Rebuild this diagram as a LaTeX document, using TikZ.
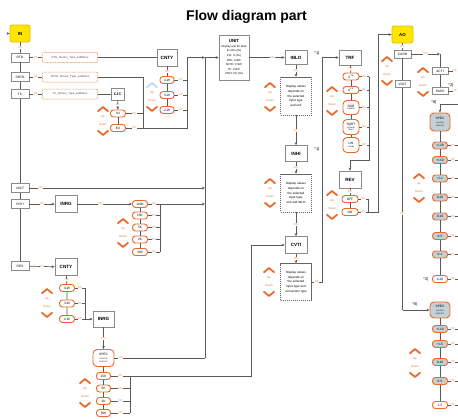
\documentclass[tikz,border=0pt]{standalone}
\usepackage{fontspec}
\setmainfont{Liberation Sans}
\usetikzlibrary{arrows.meta,shadows}
\definecolor{org}{HTML}{E8692A}
\definecolor{okc}{HTML}{F28C50}
\definecolor{lnc}{HTML}{5A5A5A}
\definecolor{bxc}{HTML}{8A8A8A}
\definecolor{yel}{HTML}{FFE500}
\definecolor{yelb}{HTML}{E8B800}
\definecolor{spc}{HTML}{C3D1D6}
\definecolor{pbl}{HTML}{BCD8EE}
\newcommand{\fs}[1]{\fontsize{#1}{#1}\selectfont}
\tikzset{
 box/.style={draw=bxc, line width=0.8pt, fill=white, font=\bfseries\fs{4.6}, inner sep=0pt, minimum width=22pt, minimum height=17pt, drop shadow={shadow xshift=0.7pt, shadow yshift=-0.7pt, fill=black!22}},
 sbox/.style={draw=bxc, line width=0.6pt, fill=white, font=\fs{3.2}, minimum width=18pt, minimum height=9pt, inner sep=0pt, drop shadow={shadow xshift=0.5pt, shadow yshift=-0.5pt, fill=black!20}},
 inbox/.style={draw=yelb, line width=0.8pt, fill=yel, rounded corners=2pt, font=\bfseries\fs{4.4}, minimum width=20pt, minimum height=17pt, inner sep=0pt},
 pill/.style={draw=org, line width=0.9pt, fill=white, rounded corners=3pt, font=\fs{3.2}, minimum width=15pt, minimum height=7pt, inner sep=0pt, align=center},
 gpill/.style={pill, fill=spc},
 spec/.style={pill, rounded corners=4pt, minimum width=21pt, minimum height=17pt},
 ok/.style={text=okc, font=\fs{2.8}, fill=white, inner sep=0.4pt},
 ud/.style={text=org, font=\fs{2.8}, inner sep=0pt},
 ln/.style={draw=lnc, line width=0.7pt},
 arr/.style={ln, -{Stealth[length=3pt,width=2.8pt]}},
 sub/.style={draw=org!80, line width=0.5pt, dash pattern=on 1pt off 0.6pt, rounded corners=1pt, font=\fs{2.8}, text=black!70, minimum width=55pt, minimum height=10pt, inner sep=0pt, fill=white},
 dbox/.style={draw=black!60, line width=0.5pt, dash pattern=on 1.2pt off 0.8pt, fill=white, font=\fontsize{3.1}{4.6}\selectfont, align=center, minimum width=31pt, minimum height=38pt, inner sep=0pt},
 note/.style={font=\fs{4}, inner sep=0pt},
 chev/.style={draw=org, line width=1.8pt, line cap=round, line join=round},
 updown/.pic={
   \draw[chev] (-5,-9.8) -- (0,-14) -- (5,-9.8);
   \node[ud] (-up) at (0,-4) {Up};
   \node[ud] (-dn) at (0,4) {Down};
   \draw[chev] (-5,9.8) -- (0,14) -- (5,9.8);
 },
 updownb/.pic={
   \draw[chev, draw=pbl] (-5,-9.8) -- (0,-14) -- (5,-9.8);
   \node[ud] (-up) at (0,-4) {Up};
   \node[ud] (-dn) at (0,4) {Down};
   \draw[chev] (-5,9.8) -- (0,14) -- (5,9.8);
 },
}
\begin{document}
\begin{tikzpicture}[x=1pt,y=-1pt]
\useasboundingbox (0,0) rectangle (458,418);
\node[font=\bfseries\fs{14}, anchor=base, inner sep=0pt] (title) at (246.5,20) {Flow diagram part};

% ---------- left column ----------
\node[inbox] (IN) at (20,33.5) {IN};
\coordinate (INs) at (6.5,33.5);
\draw[arr] (INs) -- (IN);
\node[sbox] (RTO) at (20,57.5) {RTO};
\node[sbox] (SRTD) at (20,77) {SRTD};
\node[sbox] (TC) at (20,94) {TC};
\node[sbox] (VOLT) at (20,188) {VOLT};
\node[sbox] (POTI) at (20,204) {POTI};
\node[sbox] (RES) at (20,266) {RES};
\draw[ln] (IN) -- node[ok]{OK} (RTO);
\draw[ln] (RTO) -- (SRTD) -- (TC) -- (VOLT) -- (POTI) -- (RES);

\node[sub] (RTOm) at (70,57.5) {RTD\_Sensor\_Type\_subMenu};
\node[sub] (SRTDm) at (70,77) {SRTD\_Sensor\_Type\_subMenu};
\node[sub] (TCm) at (70,94) {TC\_Sensor\_Type\_subMenu};
\draw[ln] (RTO) -- node[ok]{OK} (RTOm);
\draw[ln] (SRTD) -- node[ok]{OK} (SRTDm);
\draw[ln] (TC) -- node[ok]{OK} (TCm);

% CNTY (RTD)
\node[box, minimum width=20pt] (CNTYa) at (167,57.5) {CNTY};
\draw[ln] (RTOm) -- (CNTYa);
\node[pill, minimum width=14pt] (a4w) at (167,80) {4-W};
\node[pill, minimum width=14pt] (a3w) at (167,95) {3-W};
\node[pill, minimum width=14pt] (a2w) at (167,110) {2-W};
\draw[ln] (CNTYa) -- node[ok]{OK} (a4w) -- (a3w) -- (a2w);
\coordinate (b1t) at (187,57.5);
\coordinate (b1b) at (187,128);
\draw[ln] (a4w) -- node[ok]{OK} (a4w -| b1t);
\draw[ln] (a3w) -- node[ok]{OK} (a3w -| b1t);
\draw[ln] (a2w) -- node[ok]{OK} (a2w -| b1t);
\pic (u1) at (152,97) {updownb};

% CJC
\node[box, minimum width=13pt, minimum height=12pt, font=\bfseries\fs{3.6}] (CJC) at (117.5,94) {CJC};
\draw[ln] (TCm) -- (CJC);
\node[pill] (cin) at (118,113.5) {IN};
\node[pill] (cex) at (118,128) {EX};
\draw[arr] (CJC) -- node[ok]{OK} (cin);
\draw[ln] (cin) -- (cex);
\coordinate (j1t) at (143,77);
\coordinate (j1) at (143,128);
\draw[ln] (SRTDm) -- (j1t) -- (j1) -- (b1b) -- (b1t);
\draw[ln] (cin) -- node[ok]{OK} (cin -| j1);
\draw[ln] (cex) -- node[ok]{OK} (j1);
\pic (u2) at (103,121) {updown};

% bus to UNIT
\coordinate (b2t) at (205,57.5);
\coordinate (b2v) at (205,188);
\coordinate (b2p) at (205,204);
\coordinate (b2b) at (205,358);
\draw[ln] (b2t) -- (b2b);
\draw[arr] (b1t) -- (b2t);
\node[box, minimum width=30pt, minimum height=45pt, align=center, font=\fontsize{2.8}{4.6}\selectfont] (UNIT) at (234,57.5) {{\bfseries\fs{4.4}UNIT}\\Display unit for data\\R: ohm (fix)\\Pot: \% (fix)\\RTD: C/K/F\\SRTD: C/K/F\\TC: C/K/F\\VOLT: mV (fix)};
\draw[arr] (b2t) -- (UNIT);

% VOLT / POTI
\draw[arr] (VOLT) -- node[ok, pos=0.065]{OK} (b2v);
\node[box] (INRGa) at (66,204) {INRG};
\draw[arr] (POTI) -- node[ok]{OK} (INRGa);
\node[pill] (r120) at (140,204) {120K};
\node[pill] (r15) at (140,215.5) {15K};
\node[pill] (r5) at (140,227.5) {5K};
\node[pill] (r2) at (140,239.5) {2K};
\node[pill] (r500) at (140,252) {500};
\draw[arr] (INRGa) -- node[ok, pos=0.42]{OK} (r120);
\draw[ln] (r120) -- (r15) -- (r5) -- (r2) -- (r500);
\coordinate (b3t) at (160,204);
\coordinate (b3b) at (160,252);
\draw[ln] (r120) -- node[ok]{OK} (b3t);
\draw[ln] (r15) -- node[ok]{OK} (r15 -| b3t);
\draw[ln] (r5) -- node[ok]{OK} (r5 -| b3t);
\draw[ln] (r2) -- node[ok]{OK} (r2 -| b3t);
\draw[ln] (r500) -- node[ok]{OK} (b3b);
\draw[ln] (b3b) -- (b3t);
\draw[arr] (b3t) -- (b2p);
\pic (u3) at (123,233) {updown};

% RES
\node[box] (CNTYb) at (66,267) {CNTY};
\draw[arr] (RES) -- node[ok]{OK} (CNTYb);
\node[pill] (b4w) at (67,288) {4-W};
\node[pill] (b3w) at (67,303.5) {3-W};
\node[pill] (b2w) at (67,319) {2-W};
\draw[ln] (CNTYb) -- node[ok]{OK} (b4w) -- (b3w) -- (b2w);
\coordinate (b4t) at (85,288);
\coordinate (b4b) at (85,319);
\draw[ln] (b4w) -- node[ok]{OK} (b4t);
\draw[ln] (b3w) -- node[ok]{OK} (b3w -| b4t);
\draw[ln] (b2w) -- node[ok]{OK} (b4b);
\draw[ln] (b4t) -- (b4b);
\node[box, minimum width=21pt, minimum height=16pt] (INRGb) at (103.5,319) {INRG};
\draw[arr] (b4b) -- (INRGb);
\pic (u4) at (47,303) {updown};

\node[spec] (SPa) at (103.5,358) {SPEC\\{\fs{1.8}CUSTOM}\\{\fs{1.8}SPECIFIC}};
\draw[arr] (INRGb) -- node[ok]{OK} (SPa);
\draw[ln] (SPa) -- node[ok, pos=0.07]{OK} (b2b);
\node[pill, minimum width=14pt] (s15) at (103.5,376) {15K};
\node[pill, minimum width=14pt] (s5) at (103.5,388.5) {5K};
\node[pill, minimum width=14pt] (s2) at (103.5,401) {2K};
\node[pill, minimum width=14pt] (s500) at (103.5,413) {500};
\draw[ln] (SPa) -- (s15) -- (s5) -- (s2) -- (s500);
\coordinate (b5t) at (130,376);
\coordinate (b5b) at (130,413);
\draw[ln] (s15) -- node[ok]{OK} (b5t);
\draw[ln] (s5) -- node[ok]{OK} (s5 -| b5t);
\draw[ln] (s2) -- node[ok]{OK} (s2 -| b5t);
\draw[ln] (s500) -- node[ok]{OK} (b5b);
\coordinate (cvb) at (251,376);
\coordinate (cvt) at (251,245);
\draw[ln] (b5b) -- (b5t) -- (cvb) -- (cvt);
\pic (u5) at (85,393) {updown};

% ---------- middle column ----------
\node[box, minimum height=14pt] (INLO) at (296,57.5) {INLO};
\draw[arr] (UNIT) -- node[ok, pos=0.65]{OK} (INLO);
\node[note] (n1) at (317,53) {*1)};
\node[dbox] (D1) at (296,96) {Display values\\depends on\\the selected\\input type\\and unit};
\draw[arr] (INLO) -- node[ok]{OK} (D1);
\node[box, minimum height=16pt] (INHI) at (296,153.5) {INHI};
\node[note] (n2) at (317,149) {*1)};
\draw[arr] (D1) -- node[ok]{OK} (INHI);
\node[dbox] (D2) at (296,193) {Display values\\depends on\\the selected\\input type,\\unit and INLO};
\draw[arr] (INHI) -- node[ok]{OK} (D2);
\node[box] (CVTI) at (296,245) {CVTI};
\draw[arr] (D2) -- node[ok]{OK} (CVTI);
\draw[arr] (cvt) -- (CVTI);
\node[dbox, minimum height=37pt] (D3) at (296,282) {Display values\\depends on\\the selected\\input type and\\connection type};
\draw[arr] (CVTI) -- node[ok]{OK} (D3);
\pic (u6) at (270,97) {updown};
\pic (u7) at (270,193) {updown};
\pic (u8) at (269,282) {updown};

% TRF
\coordinate (t1) at (322,282);
\coordinate (t2) at (322,57.5);
\node[box, minimum height=15pt] (TRF) at (350,57.5) {TRF};
\draw[ln] (D3) -- node[ok]{OK} (t1) -- (t2);
\draw[arr] (t2) -- (TRF);
\node[pill, minimum width=16pt] (p05) at (351,76.5) {X\textsuperscript{0.5}};
\node[pill, minimum width=16pt] (p15) at (351,90) {X\textsuperscript{1.5}};
\node[pill, minimum width=16pt, minimum height=14pt, rounded corners=4pt] (psqr) at (351,107.5) {SQR\\[-0.5pt]{\fs{1.8}SQUARE}};
\node[pill, minimum width=16pt, minimum height=15pt, rounded corners=4pt] (psqrt) at (351,127) {SQRT\\[-0.5pt]{\fs{1.8}SQUARE}\\[-1pt]{\fs{1.8}ROOT}};
\node[pill, minimum width=16pt, minimum height=15pt, rounded corners=4pt] (plin) at (351,145) {LIN\\[-0.5pt]{\fs{1.8}LINEAR}};
\draw[ln] (TRF) -- node[ok]{OK} (p05);
\draw[ln] (p05) -- (p15) -- (psqr) -- (psqrt) -- (plin);
\coordinate (b6t) at (369,76.5);
\coordinate (b6b) at (369,160);
\coordinate (b6c) at (350,160);
\draw[ln] (p05) -- node[ok]{OK} (b6t);
\draw[ln] (p15) -- node[ok]{OK} (p15 -| b6t);
\draw[ln] (psqr) -- node[ok]{OK} (psqr -| b6t);
\draw[ln] (psqrt) -- node[ok]{OK} (psqrt -| b6t);
\draw[ln] (plin) -- node[ok]{OK} (plin -| b6t);
\draw[ln] (b6t) -- (b6b) -- (b6c);
\node[box] (REV) at (350,179.5) {REV};
\draw[arr] (b6c) -- (REV);
\node[pill, minimum width=16pt] (OFF) at (350,199) {OFF};
\node[pill, minimum width=16pt] (ON) at (350,212) {ON};
\draw[ln] (REV) -- node[ok]{OK} (OFF) -- (ON);
\coordinate (b7t) at (368,199);
\coordinate (b7b) at (368,212);
\coordinate (b8b) at (378,212);
\coordinate (b8t) at (378,34.5);
\draw[ln] (OFF) -- node[ok]{OK} (b7t);
\draw[ln] (ON) -- node[ok]{OK} (b7b);
\draw[ln] (b7t) -- (b7b) -- (b8b) -- (b8t);
\pic (u9) at (332,101) {updown};
\pic (u10) at (332,205) {updown};

% ---------- AO ----------
\node[inbox, minimum width=21pt] (AO) at (402.5,34.5) {AO};
\draw[arr] (b8t) -- (AO);
\node[sbox, minimum width=17pt, minimum height=8pt] (CURR) at (402.5,54) {CURR};
\draw[ln] (AO) -- node[ok]{OK} (CURR);
\node[sbox, minimum width=15pt, minimum height=7pt] (VOLTo) at (402.5,84) {VOLT};
\draw[ln] (CURR) -- (VOLTo);
\coordinate (v1) at (402.5,310);
\draw[ln] (VOLTo) -- node[ok, pos=0.564]{OK} (v1);
\pic (u11) at (387,71) {updown};
\coordinate (cc) at (440,54);
\draw[arr] (CURR) -- node[ok]{OK} (cc);
\node[sbox, minimum width=16pt, minimum height=7pt] (ACTI) at (440,71) {ACTI};
\node[sbox, minimum width=16pt, minimum height=7pt] (PASS) at (440,91) {PASS};
\draw[ln] (cc) -- (ACTI) -- (PASS);
\coordinate (e1) at (458,71);
\coordinate (e2) at (458,91);
\draw[ln] (ACTI) -- node[ok, pos=0.7]{OK} (e1);
\draw[ln] (PASS) -- node[ok, pos=0.7]{OK} (e2);
\node[note] (n3) at (451,85.5) {*2)};
\pic (u12) at (423,82) {updown};

\node[note] (n4) at (434,102) {*8)};
\coordinate (sr) at (458,104.5);
\coordinate (sc) at (440,104.5);
\node[spec, fill=spc, minimum width=20pt, minimum height=18pt] (SPr1) at (440,122) {SPEC\\{\fs{1.8}CUSTOM}\\{\fs{1.8}SPECIFIC}};
\draw[ln] (sr) -- (sc);
\draw[arr] (sc) -- (SPr1);
\node[gpill] (g20) at (440,145.5) {+/-20};
\node[gpill] (g10) at (440,160) {+/-10};
\node[gpill] (g1) at (440,178.5) {+/-1};
\node[gpill] (g020) at (440,197.5) {0-20};
\node[gpill] (g010) at (440,216.5) {0-10};
\node[gpill] (g05) at (440,236) {0-5};
\node[gpill] (g01) at (440,254.5) {0-1};
\node[pill] (w420) at (440,279) {4-20};
\draw[ln] (SPr1) -- (g20) -- (g10) -- (g1) -- (g020) -- (g010) -- (g05) -- (g01) -- (w420);
\coordinate (ex) at (458,0);
\draw[ln] (g20) -- node[ok]{OK} (g20 -| ex);
\draw[ln] (g10) -- node[ok]{OK} (g10 -| ex);
\draw[ln] (g1) -- node[ok]{OK} (g1 -| ex);
\draw[ln] (g020) -- node[ok]{OK} (g020 -| ex);
\draw[ln] (g010) -- node[ok]{OK} (g010 -| ex);
\draw[ln] (g05) -- node[ok]{OK} (g05 -| ex);
\draw[ln] (g01) -- node[ok]{OK} (g01 -| ex);
\draw[ln] (w420) -- node[ok]{OK} (w420 -| ex);
\node[note] (n5) at (426,279) {*2)};
\pic (u13) at (419,188) {updown};

\node[note] (n6) at (415,304) {*6)};
\node[spec, fill=spc, minimum width=20pt, minimum height=16pt] (SPr2) at (440,310) {SPEC\\{\fs{1.8}CUSTOM}\\{\fs{1.8}SPECIFIC}};
\draw[arr] (v1) -- (SPr2);
\node[gpill] (h10) at (440,329) {+/-10};
\node[gpill] (h5) at (440,344) {+/-5};
\node[gpill] (h010) at (440,362) {0-10};
\node[gpill] (h05) at (440,381) {0-5};
\node[pill] (w15) at (440,405) {1-5};
\draw[ln] (SPr2) -- (h10) -- (h5) -- (h010) -- (h05) -- (w15);
\draw[ln] (h10) -- node[ok]{OK} (h10 -| ex);
\draw[ln] (h5) -- node[ok]{OK} (h5 -| ex);
\draw[ln] (h010) -- node[ok]{OK} (h010 -| ex);
\draw[ln] (h05) -- node[ok]{OK} (h05 -| ex);
\draw[ln] (w15) -- node[ok]{OK} (w15 -| ex);
\pic (u14) at (415,363) {updown};
\end{tikzpicture}
\end{document}
